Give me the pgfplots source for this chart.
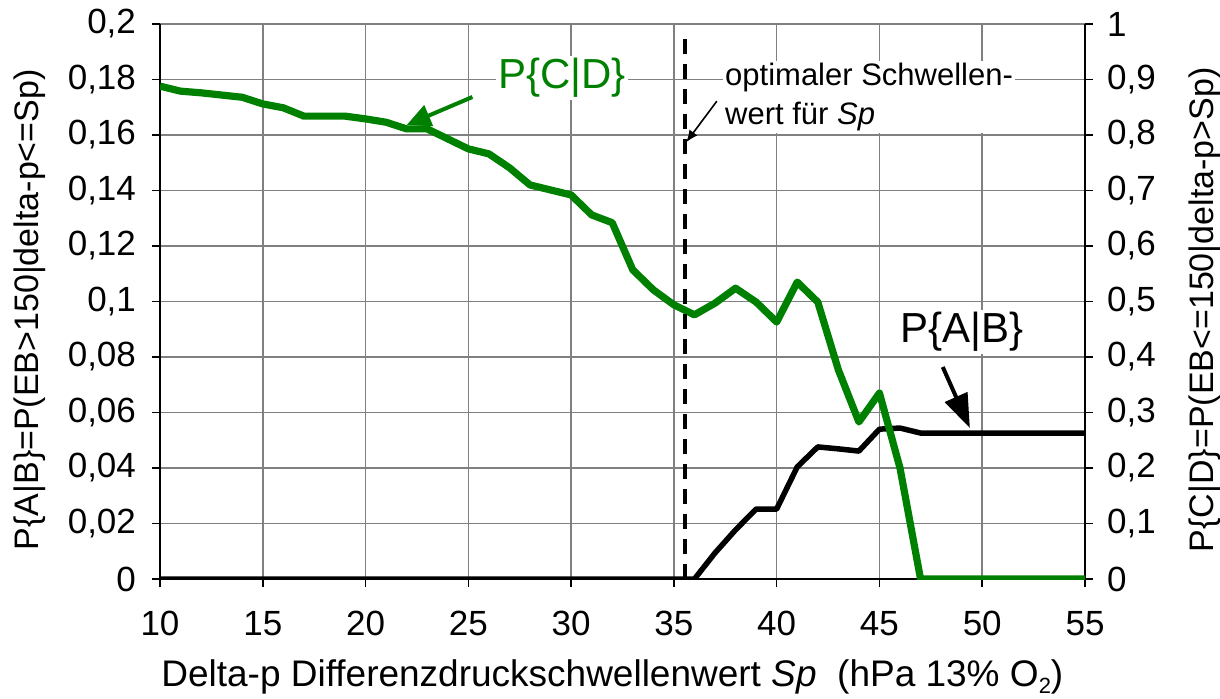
\documentclass[border=0pt]{standalone}
\usepackage{pgfplots}
\pgfplotsset{compat=1.18}
\usepackage{fontspec}
\setmainfont{Liberation Sans}
\usetikzlibrary{arrows.meta}
\definecolor{cdgreen}{RGB}{0,128,0}
\begin{document}
\begin{tikzpicture}
\pgfplotsset{
  common/.style={
    scale only axis, width=462.5pt, height=277.5pt,
    at={(0,0)}, anchor=south west,
    xmin=10, xmax=55,
    tick align=outside, major tick length=4pt,
    tick label style={font=\fontsize{17.5}{20}\selectfont},
    /pgf/number format/assume math mode=true,
    /pgf/number format/use comma,
    axis line style={line width=1pt},
    tick style={line width=0.75pt, black},
    scaled y ticks=false,
  }
}
\begin{axis}[common,
  ymin=0, ymax=0.2,
  axis x line*=bottom, axis y line*=left,
  xtick={10,15,20,25,30,35,40,45,50,55},
  ytick={0,0.02,0.04,0.06,0.08,0.1,0.12,0.14,0.16,0.18,0.2},
  yticklabel style={/pgf/number format/fixed, /pgf/number format/precision=2, xshift=-4.5pt},
  xticklabel style={yshift=-8.5pt},
  grid=major, major grid style={line width=0.75pt, black!50},
  xlabel={Delta-p Differenzdruckschwellenwert \textit{Sp}\ \ (hPa 13\% O\raisebox{-0.2em}{\fontsize{11}{11}\selectfont 2})},
  ylabel={P\{A|B\}=P(EB>150|delta-p<=Sp)},
  every axis x label/.style={at={(axis description cs:0.489,-0.176)}, anchor=center, font=\fontsize{18.5}{21}\selectfont},
  every axis y label/.style={at={(axis description cs:-0.1405,0.485)}, anchor=center, rotate=90, font=\fontsize{17}{20}\selectfont},
]
\addplot[black, line width=2.75pt, line join=round] coordinates {
(10,0) (11,0) (12,0) (13,0) (14,0) (15,0) (16,0) (17,0) (18,0) (19,0)
(20,0) (21,0) (22,0) (23,0) (24,0) (25,0) (26,0) (27,0) (28,0) (29,0)
(30,0) (31,0) (32,0) (33,0) (34,0) (35,0) (36,0)
(37,0.0094) (38,0.0177) (39,0.0252) (40,0.0252) (41,0.0404) (42,0.0476)
(43,0.0469) (44,0.0461) (45,0.0540) (46,0.0544) (47,0.0526) (48,0.0526)
(49,0.0526) (50,0.0526) (51,0.0526) (52,0.0526) (53,0.0526) (54,0.0526) (55,0.0526)
};
\end{axis}
\begin{axis}[common,
  ymin=0, ymax=1,
  axis x line=none, axis y line*=right,
  ytick={0,0.1,0.2,0.3,0.4,0.5,0.6,0.7,0.8,0.9,1},
  yticklabel style={/pgf/number format/fixed, /pgf/number format/precision=1, xshift=3.5pt},
  ylabel={P\{C|D\}=P(EB<=150|delta-p>Sp)},
  every axis y label/.style={at={(axis description cs:1.1297,0.485)}, anchor=center, rotate=90, font=\fontsize{17}{20}\selectfont},
]
\addplot[cdgreen, line width=3.6pt, line join=round] coordinates {
(10,0.888) (11,0.879) (12,0.876) (13,0.872) (14,0.868) (15,0.856) (16,0.849)
(17,0.834) (18,0.834) (19,0.834) (20,0.829) (21,0.823) (22,0.811) (23,0.811)
(24,0.793) (25,0.775) (26,0.766) (27,0.741) (28,0.710) (29,0.701) (30,0.692)
(31,0.656) (32,0.642) (33,0.557) (34,0.521) (35,0.494) (36,0.476) (37,0.497)
(38,0.524) (39,0.499) (40,0.463) (41,0.535) (42,0.499) (43,0.377) (44,0.283)
(45,0.335) (46,0.200) (47,0) (48,0) (49,0) (50,0) (51,0) (52,0) (53,0) (54,0) (55,0)
};
\addplot[black, line width=2pt, dash pattern=on 7.5pt off 5pt] coordinates {(35.55,0) (35.55,0.985)};
\node[fill=white, inner sep=1pt, text=cdgreen, font=\fontsize{21}{24}\selectfont] at (axis cs:29.55,0.9025) {P\{C|D\}};
\draw[cdgreen, line width=2pt, -{Triangle[length=12pt,width=11pt]}] (axis cs:25.2,0.8685) -- (axis cs:22.0,0.818);
\node[fill=white, inner sep=1pt, anchor=west, align=left, font=\fontsize{15.5}{19.75}\selectfont] at (axis cs:37.38,0.8685) {optimaler Schwellen-\\wert für \textit{Sp}};
\draw[black, line width=0.8pt, -{Latex[length=6pt,width=5pt]}] (axis cs:37.09,0.861) -- (axis cs:35.6,0.787);
\node[fill=white, inner sep=1pt, font=\fontsize{21}{24}\selectfont] at (axis cs:49.0,0.445) {P\{A|B\}};
\draw[black, line width=2pt, -{Triangle[length=17pt,width=12pt]}] (axis cs:48.08,0.382) -- (axis cs:49.4,0.272);
\end{axis}
\pgfresetboundingbox
\useasboundingbox (-80pt,-59.5pt) rectangle (530pt,289.5pt);
\end{tikzpicture}
\end{document}
